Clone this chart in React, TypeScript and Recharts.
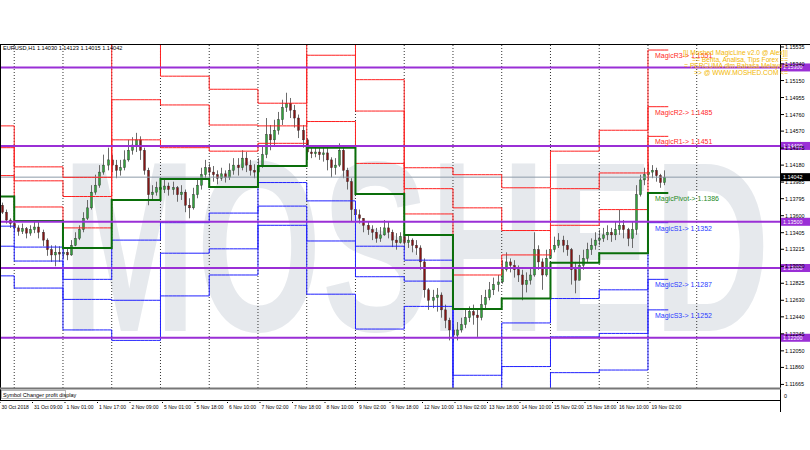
import React from 'react';
import { ComposedChart, Bar, Line, XAxis, YAxis, ReferenceLine, ReferenceDot } from 'recharts';

const FONT = "'Liberation Sans', Arial, sans-serif";

// hour index 0 = 30 Oct 17:00, one slot per H1 bar (weekends skipped)
const dayStarts = [0, 7, 31, 55, 79, 103, 127, 151, 175, 199, 223, 247, 271, 295, 319];
const separators = [7, 31, 55, 79, 103, 127, 151, 175, 199, 223, 247, 271, 295, 319, 343];

// daily pivot levels, 30 Oct .. 19 Nov
const r3Levels = [1.1463, 1.1416, 1.1404, 1.1562, 1.152, 1.1505, 1.1489, 1.159, 1.1516, 1.1415, 1.1407, 1.1392, 1.1434, 1.1458, 1.155];
const r2Levels = [1.1438, 1.14, 1.1382, 1.1493, 1.1487, 1.1464, 1.1463, 1.1544, 1.148, 1.1391, 1.1369, 1.1343, 1.1391, 1.1409, 1.1485];
const r1Levels = [1.1406, 1.137, 1.1346, 1.1447, 1.1438, 1.1434, 1.1443, 1.1468, 1.142, 1.1362, 1.1292, 1.1315, 1.1349, 1.1367, 1.1451];
const pivotLevels = [1.1382, 1.1354, 1.1323, 1.1378, 1.1402, 1.1393, 1.1417, 1.1438, 1.1385, 1.1338, 1.1253, 1.1265, 1.1306, 1.1317, 1.1386];
const s1Levels = [1.1348, 1.1324, 1.1287, 1.1332, 1.1352, 1.1363, 1.1398, 1.1377, 1.1325, 1.1309, 1.1177, 1.1237, 1.1265, 1.1275, 1.1352];
const s2Levels = [1.1325, 1.1308, 1.1264, 1.1263, 1.1317, 1.1322, 1.1371, 1.1331, 1.129, 1.1285, 1.1138, 1.1187, 1.1221, 1.1225, 1.1287];
const s3Levels = [1.1291, 1.1277, 1.1229, 1.1217, 1.1268, 1.1292, 1.1349, 1.127, 1.123, 1.1256, 1.1063, 1.1159, 1.118, 1.1183, 1.1252];

// 2-hour candles, first one starts at hour 1
const firstOpen = 1.1372;
const closes = [
  1.1364, 1.1355, 1.1351,
  1.1346, 1.1342, 1.1345, 1.134, 1.1344, 1.1347, 1.1341, 1.1332, 1.1321, 1.1315, 1.1318, 1.1316,
  1.1318, 1.1315, 1.1326, 1.1334, 1.1344, 1.1357, 1.1369, 1.1387, 1.1395, 1.141, 1.1418, 1.1424,
  1.1418, 1.1412, 1.1415, 1.1424, 1.1435, 1.1441, 1.1447, 1.1435, 1.1412, 1.1384, 1.1387, 1.1392,
  1.139, 1.1394, 1.139, 1.1392, 1.1384, 1.1387, 1.1372, 1.1369, 1.1384, 1.1395, 1.1407, 1.1415,
  1.141, 1.1407, 1.1403, 1.1408, 1.1404, 1.1412, 1.1418, 1.1415, 1.1426, 1.1418, 1.1412, 1.141,
  1.1418, 1.143, 1.1453, 1.1447, 1.1458, 1.147, 1.1484, 1.1489, 1.1481, 1.1472, 1.1458, 1.1447,
  1.1433, 1.1431, 1.1433, 1.143, 1.1432, 1.1424, 1.1415, 1.1418, 1.1435, 1.1412, 1.1399, 1.1367,
  1.1361, 1.1357, 1.1349, 1.1344, 1.1341, 1.1334, 1.1338, 1.1346, 1.1341, 1.1332, 1.1329, 1.1336,
  1.1329, 1.1332, 1.1326, 1.1323, 1.1307, 1.1275, 1.1263, 1.1266, 1.1269, 1.1252, 1.124, 1.1229,
  1.1223, 1.1229, 1.1235, 1.1243, 1.125, 1.1246, 1.1243, 1.1258, 1.1266, 1.1275, 1.1281, 1.1284,
  1.1298, 1.1307, 1.1303, 1.1298, 1.1292, 1.1281, 1.1286, 1.1292, 1.1321, 1.1307, 1.1292, 1.1311,
  1.1321, 1.1326, 1.1332, 1.1326, 1.1321, 1.1298, 1.1286, 1.1303, 1.1311, 1.1321, 1.1326, 1.1332,
  1.1334, 1.1338, 1.1341, 1.1338, 1.1344, 1.1349, 1.1344, 1.1334, 1.1344, 1.1384, 1.1401, 1.1407,
  1.141, 1.1412, 1.1406, 1.1398, 1.1404,
];
const highs = [
  1.1375, 1.1367, 1.1357,
  1.1353, 1.1349, 1.1351, 1.1347, 1.1349, 1.1355, 1.1353, 1.1344, 1.1334, 1.1326, 1.1326, 1.1325,
  1.1326, 1.1323, 1.1332, 1.1341, 1.1349, 1.1364, 1.1378, 1.1395, 1.1407, 1.1418, 1.143, 1.1438,
  1.143, 1.1424, 1.1424, 1.1435, 1.1447, 1.145, 1.1455, 1.1451, 1.1438, 1.1415, 1.1395, 1.1399,
  1.1398, 1.1401, 1.1398, 1.1399, 1.1394, 1.1395, 1.139, 1.138, 1.1392, 1.1403, 1.1415, 1.1424,
  1.142, 1.1417, 1.1412, 1.1415, 1.1412, 1.142, 1.1426, 1.1426, 1.1435, 1.1433, 1.1424, 1.1419,
  1.1426, 1.1441, 1.1472, 1.1464, 1.147, 1.1479, 1.1493, 1.1501, 1.1495, 1.1487, 1.1476, 1.1464,
  1.1449, 1.1438, 1.1438, 1.1438, 1.1441, 1.1438, 1.1427, 1.1426, 1.1443, 1.1438, 1.1415, 1.1403,
  1.1369, 1.1367, 1.1357, 1.1353, 1.1349, 1.1346, 1.1347, 1.1355, 1.1353, 1.1344, 1.134, 1.1341,
  1.1337, 1.1338, 1.1334, 1.1332, 1.1326, 1.1311, 1.1277, 1.1275, 1.1277, 1.1272, 1.1258, 1.1243,
  1.1235, 1.1238, 1.1243, 1.1252, 1.1256, 1.1258, 1.1254, 1.1269, 1.1275, 1.1284, 1.1289, 1.1292,
  1.1309, 1.1318, 1.1311, 1.1309, 1.1303, 1.1298, 1.1295, 1.13, 1.1341, 1.1326, 1.1311, 1.1321,
  1.1332, 1.1336, 1.134, 1.1337, 1.1332, 1.1323, 1.1307, 1.1315, 1.1321, 1.1329, 1.1334, 1.1341,
  1.1344, 1.1346, 1.1349, 1.1346, 1.1353, 1.1367, 1.1355, 1.1346, 1.1353, 1.1395, 1.1407, 1.1415,
  1.142, 1.1418, 1.1415, 1.1408, 1.1412,
];
const lows = [
  1.1362, 1.1351, 1.1346,
  1.1341, 1.1337, 1.1339, 1.1334, 1.1337, 1.134, 1.1334, 1.1325, 1.1314, 1.1307, 1.1302, 1.1307,
  1.1311, 1.1309, 1.1314, 1.1325, 1.1332, 1.1341, 1.1355, 1.1367, 1.1384, 1.1392, 1.1407, 1.1412,
  1.141, 1.1403, 1.1406, 1.1412, 1.1422, 1.143, 1.1433, 1.1424, 1.1407, 1.1372, 1.1378, 1.1383,
  1.1381, 1.1386, 1.1383, 1.1384, 1.1376, 1.1378, 1.1364, 1.1357, 1.1367, 1.138, 1.139, 1.1401,
  1.1401, 1.1399, 1.1396, 1.14, 1.1398, 1.1401, 1.1407, 1.1406, 1.1412, 1.141, 1.1406, 1.1403,
  1.141, 1.1415, 1.1426, 1.1435, 1.1441, 1.1453, 1.1464, 1.1479, 1.1472, 1.1461, 1.1449, 1.1438,
  1.1424, 1.1426, 1.1427, 1.1424, 1.1422, 1.1412, 1.1404, 1.1407, 1.1416, 1.1403, 1.139, 1.1353,
  1.1353, 1.1351, 1.1341, 1.1338, 1.1332, 1.1329, 1.133, 1.1337, 1.1334, 1.1324, 1.1321, 1.1328,
  1.1321, 1.1323, 1.1318, 1.1315, 1.1298, 1.1266, 1.1252, 1.1254, 1.125, 1.1243, 1.1231, 1.1217,
  1.1215, 1.1217, 1.1226, 1.1231, 1.1238, 1.1235, 1.1221, 1.124, 1.1254, 1.1263, 1.1269, 1.1273,
  1.1282, 1.1296, 1.1295, 1.1289, 1.1284, 1.1263, 1.1272, 1.1281, 1.129, 1.1298, 1.1275, 1.129,
  1.1311, 1.1318, 1.1323, 1.1318, 1.1314, 1.1281, 1.1271, 1.1286, 1.1298, 1.1307, 1.1315, 1.1321,
  1.1326, 1.133, 1.1332, 1.133, 1.1332, 1.1338, 1.1334, 1.1325, 1.1323, 1.1338, 1.1382, 1.1395,
  1.1401, 1.1403, 1.1399, 1.1392, 1.1395,
];

const timeLabels = [
  '30 Oct 2018', '31 Oct 09:00', '1 Nov 01:00', '1 Nov 17:00', '2 Nov 09:00', '5 Nov 01:00',
  '5 Nov 18:00', '6 Nov 10:00', '7 Nov 02:00', '7 Nov 18:00', '8 Nov 10:00', '9 Nov 02:00',
  '9 Nov 18:00', '12 Nov 10:00', '13 Nov 02:00', '13 Nov 18:00', '14 Nov 10:00', '15 Nov 02:00',
  '15 Nov 18:00', '16 Nov 10:00', '19 Nov 02:00',
];
const priceTicks = [
  1.15535, 1.1534, 1.1515, 1.14955, 1.1476, 1.1457, 1.14375, 1.1418, 1.13985, 1.13795, 1.136,
  1.13405, 1.13215, 1.1302, 1.12825, 1.1263, 1.1244, 1.12245, 1.1205, 1.1186, 1.11665,
];
const roundLevels = [1.153, 1.144, 1.1353, 1.13, 1.122];
const roundLabels = ['1.15300', '1.14400', '1.13500', '1.13000', '1.12200'];
const bidPrice = 1.14042;

const levelLabels = [
  { text: 'MagicR3-> 1.1551', value: 1.155, color: '#ff2a2a' },
  { text: 'MagicR2-> 1.1485', value: 1.1485, color: '#ff2a2a' },
  { text: 'MagicR1-> 1.1451', value: 1.1451, color: '#ff2a2a' },
  { text: 'MagicPivot-> 1.1386', value: 1.1386, color: '#1d8a1d' },
  { text: 'MagicS1-> 1.1352', value: 1.1352, color: '#2b3cff' },
  { text: 'MagicS2-> 1.1287', value: 1.1287, color: '#2b3cff' },
  { text: 'MagicS3-> 1.1252', value: 1.1252, color: '#2b3cff' },
];

const bannerLines = [
  '[|| Moshed MagicLine v2.0 @ Alex]||',
  '== Berita, Analisa, Tips Forex ==',
  '= PERCUMA dlm Bahasa Melayu =',
  '=> @ WWW.MOSHED.COM <=',
];

const dayIndex = (h: number) => {
  let d = 0;
  dayStarts.forEach((s, i) => {
    if (h >= s) d = i;
  });
  return d;
};

const levelsOf = (d: number) => ({
  r3: r3Levels[d],
  r2: r2Levels[d],
  r1: r1Levels[d],
  p: pivotLevels[d],
  s1: s1Levels[d],
  s2: s2Levels[d],
  s3: s3Levels[d],
});

const data: any[] = [{ x: 0, ...levelsOf(0) }];
closes.forEach((c, k) => {
  const x = 1 + 2 * k;
  const open = k === 0 ? firstOpen : closes[k - 1];
  data.push({
    x,
    open,
    close: c,
    high: highs[k],
    low: lows[k],
    range: [lows[k], highs[k]],
    ...levelsOf(dayIndex(x)),
  });
});
data.push({ x: 329, ...levelsOf(dayStarts.length - 1) });

const Candle = (props: any) => {
  const { x, y, width, height, payload } = props;
  if (!payload || payload.close == null) return null;
  const { open, close, high, low } = payload;
  const top = Math.min(y, y + height);
  const h = Math.abs(height);
  const span = high - low || 1e-9;
  const py = (v: number) => top + ((high - v) / span) * h;
  const cx = Math.round(x + width / 2) + 0.5;
  const bTop = py(Math.max(open, close));
  const bBot = py(Math.min(open, close));
  const up = close >= open;
  return (
    <g>
      <line x1={cx} x2={cx} y1={Math.min(top, bTop)} y2={Math.max(top + h, bBot)} stroke="#6b6b6b" strokeWidth={1} />
      <rect
        x={cx - 1}
        y={bTop}
        width={2}
        height={Math.max(1, bBot - bTop)}
        fill={up ? '#33a23c' : '#861414'}
        stroke="#2a2a2a"
        strokeWidth={0.4}
      />
    </g>
  );
};

const TimeTick = (props: any) => {
  const { x, payload } = props;
  const label = timeLabels[Math.round(payload.value / 16)];
  if (!label) return null;
  return (
    <g>
      <line x1={x} x2={x} y1={400} y2={404} stroke="#000" strokeDasharray="1 1" />
      <text x={x + 1.5} y={408.5} fontSize={5} fontFamily={FONT} fill="#000">
        {label}
      </text>
    </g>
  );
};

const PriceTick = (props: any) => {
  const { y, payload } = props;
  return (
    <g>
      <line x1={781} x2={784} y1={y} y2={y} stroke="#000" />
      <text x={785} y={y + 2} fontSize={5.4} fontFamily={FONT} fill="#000">
        {payload.value.toFixed(5)}
      </text>
    </g>
  );
};

const PriceBox = (props: any) => {
  const { viewBox, text, fill } = props;
  const y = viewBox.y;
  return (
    <g>
      <rect x={781} y={y - 4} width={29} height={8} fill={fill} />
      <text x={783} y={y + 2} fontSize={5.4} fontFamily={FONT} fill="#fff">
        {text}
      </text>
    </g>
  );
};

const levelLabelShape = (text: string, color: string) => (props: any) => (
  <text x={props.cx + 7} y={props.cy + 8} fontSize={7} fontFamily={FONT} fill={color}>
    {text}
  </text>
);

export default function App() {
  return (
    <div style={{ position: 'absolute', left: 0, top: 0, width: 810, height: 450, background: '#fff', overflow: 'hidden' }}>
      <svg width={810} height={450} style={{ position: 'absolute', left: 0, top: 0 }}>
        <text
          x={62}
          y={331}
          fontSize={244}
          fontWeight="bold"
          fontFamily={FONT}
          fill="#e6e9ed"
          textLength={708}
          lengthAdjust="spacingAndGlyphs"
        >
          MOSHED
        </text>
      </svg>
      <div style={{ position: 'absolute', left: 0, top: 0 }}>
        <ComposedChart width={810} height={450} data={data} margin={{ top: 44, right: 0, bottom: 0, left: 0 }}>
          <XAxis
            dataKey="x"
            type="number"
            domain={[0, 384]}
            ticks={timeLabels.map((_, i) => i * 16)}
            interval={0}
            height={62}
            axisLine={false}
            tickLine={false}
            tick={<TimeTick />}
            allowDataOverflow
          />
          <YAxis
            orientation="right"
            width={30}
            domain={[1.11624, 1.15569]}
            ticks={priceTicks}
            allowDataOverflow
            axisLine={false}
            tickLine={false}
            tick={<PriceTick />}
            interval={0}
          />
          {separators.map((h) => (
            <ReferenceLine key={'sep' + h} x={h} stroke="#333" strokeDasharray="1 2" />
          ))}
          <ReferenceLine
            y={bidPrice}
            stroke="#8d9aa8"
            label={<PriceBox text={bidPrice.toFixed(5)} fill="#000" />}
          />
          <Bar dataKey="range" barSize={3} shape={<Candle />} isAnimationActive={false} />
          <Line type="stepAfter" dataKey="r3" stroke="#ff2020" strokeWidth={1} dot={false} isAnimationActive={false} />
          <Line type="stepAfter" dataKey="r2" stroke="#ff2020" strokeWidth={1} dot={false} isAnimationActive={false} />
          <Line type="stepAfter" dataKey="r1" stroke="#ff2020" strokeWidth={1} dot={false} isAnimationActive={false} />
          <Line type="stepAfter" dataKey="s1" stroke="#2020ff" strokeWidth={1} dot={false} isAnimationActive={false} />
          <Line type="stepAfter" dataKey="s2" stroke="#2020ff" strokeWidth={1} dot={false} isAnimationActive={false} />
          <Line type="stepAfter" dataKey="s3" stroke="#2020ff" strokeWidth={1} dot={false} isAnimationActive={false} />
          <Line type="stepAfter" dataKey="p" stroke="#0a6e0a" strokeWidth={2} dot={false} isAnimationActive={false} />
          {roundLevels.map((v, i) => (
            <ReferenceLine
              key={'rl' + v}
              y={v}
              stroke="#9a2fd6"
              strokeWidth={2}
              label={<PriceBox text={roundLabels[i]} fill="#9a2fd6" />}
            />
          ))}
          {levelLabels.map((l) => (
            <ReferenceDot key={l.text} x={319} y={l.value} r={0} shape={levelLabelShape(l.text, l.color)} />
          ))}
        </ComposedChart>
      </div>
      <svg width={810} height={450} style={{ position: 'absolute', left: 0, top: 0, pointerEvents: 'none' }}>
        <line x1={0} x2={810} y1={44.5} y2={44.5} stroke="#000" />
        <line x1={0.5} x2={0.5} y1={44} y2={400} stroke="#000" />
        <line x1={780.5} x2={780.5} y1={44} y2={412} stroke="#000" />
        <line x1={0} x2={781} y1={388.5} y2={388.5} stroke="#777" strokeWidth={2} />
        <line x1={0} x2={781} y1={400.5} y2={400.5} stroke="#000" />
        <rect x={1.5} y={390.5} width={64} height={8} fill="#fff" stroke="#888" strokeWidth={0.6} />
        <text x={3} y={396.5} fontSize={5.5} fontFamily={FONT} fill="#000">
          Symbol Changer profit display
        </text>
        <text x={784} y={398} fontSize={5.4} fontFamily={FONT} fill="#000">
          0
        </text>
        <text x={3} y={50} fontSize={5.6} fontFamily={FONT} fill="#000">
          EURUSD,H1  1.14030 1.14123 1.14015 1.14042
        </text>
        {bannerLines.map((t, i) => (
          <text key={t} x={788} y={55 + i * 6.6} fontSize={6.6} fontFamily={FONT} fill="#f2b600" textAnchor="end">
            {t}
          </text>
        ))}
      </svg>
    </div>
  );
}
